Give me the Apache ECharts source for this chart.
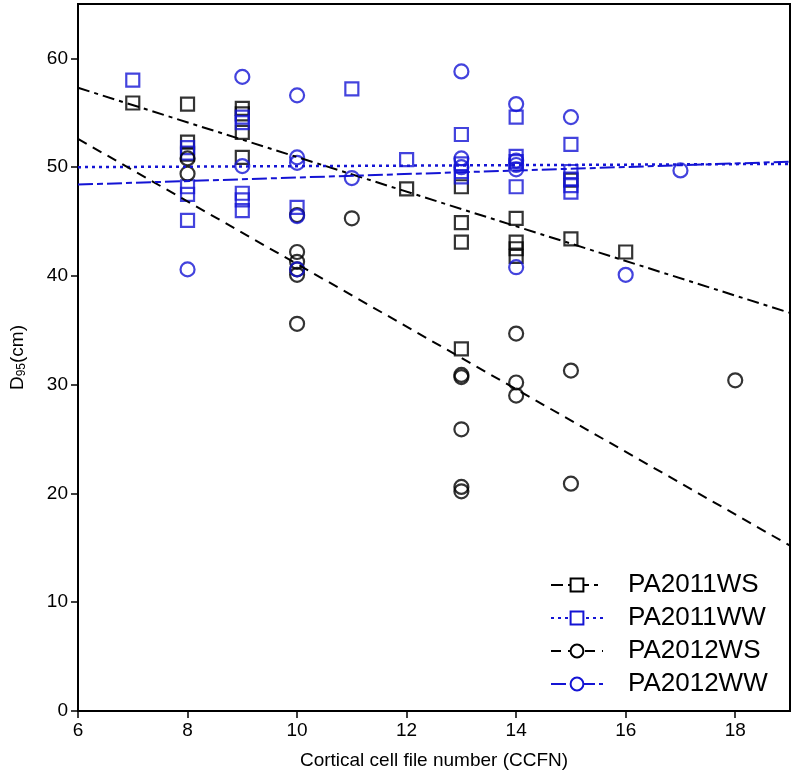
<!DOCTYPE html>
<html><head><meta charset="utf-8">
<script src="https://cdn.jsdelivr.net/npm/echarts@6/dist/echarts.min.js"></script>
<style>html,body{margin:0;padding:0;background:#fff}#c{width:793px;height:775px}</style>
</head><body><div id="c"></div>
<script>
// ---- data ----
const xTicks = [6, 8, 10, 12, 14, 16, 18];
const yTicks = [0, 10, 20, 30, 40, 50, 60];
const seriesNames = ['PA2011WS', 'PA2011WW', 'PA2012WS', 'PA2012WW'];

const pa2011wsX = [7, 8, 8, 8, 9, 9, 9, 9, 12, 13, 13, 13, 13, 14, 14, 14, 14, 15, 15, 16];
const pa2011wsY = [55.9, 55.8, 52.3, 51.2, 55.4, 54.9, 53.2, 50.9, 48.0, 48.2, 44.9, 43.1, 33.3, 45.3, 43.1, 42.5, 41.8, 48.8, 43.4, 42.2];

const pa2011wwX = [7, 8, 8, 8, 8, 8, 9, 9, 9, 9, 9, 10, 11, 12, 13, 13, 13, 13, 14, 14, 14, 14, 15, 15, 15, 15, 15];
const pa2011wwY = [58.0, 51.8, 51.3, 48.2, 47.5, 45.1, 54.6, 54.1, 47.6, 47.0, 46.0, 46.3, 57.2, 50.7, 53.0, 50.3, 49.6, 49.1, 54.6, 51.0, 50.5, 48.2, 52.1, 49.6, 48.9, 48.3, 47.7];

const pa2012wsX = [8, 8, 10, 10, 10, 10, 10, 10, 11, 13, 13, 13, 13, 13, 14, 14, 14, 15, 15, 18];
const pa2012wsY = [50.8, 49.4, 45.6, 42.2, 41.3, 40.6, 40.1, 35.6, 45.3, 30.9, 30.7, 25.9, 20.6, 20.2, 34.7, 30.2, 29.0, 31.3, 20.9, 30.4];

const pa2012wwX = [8, 9, 9, 10, 10, 10, 10, 10, 11, 13, 13, 13, 14, 14, 14, 14, 14, 15, 16, 17];
const pa2012wwY = [40.6, 58.3, 50.1, 56.6, 50.9, 50.4, 45.5, 40.6, 49.0, 58.8, 50.8, 50.0, 55.8, 50.6, 50.2, 49.8, 40.8, 54.6, 40.1, 49.7];

// regression lines: [x, y] at both ends of the x range
const fitPA2011WS = [[6, 57.3], [19, 36.6]];
const fitPA2011WW = [[6, 50.0], [19, 50.3]];
const fitPA2012WS = [[6, 52.6], [19, 15.2]];
const fitPA2012WW = [[6, 48.4], [19, 50.5]];

// ---- styles ----
const BLACK = '#000000';
const BLUE = '#1414d4';
const zip = (xs, ys) => xs.map((x, i) => [x, ys[i]]);

const groups = [
  { name: seriesNames[0], color: BLACK, symbol: 'rect', legendSymbol: 'emptyRect', dash: [12, 5, 4, 5], width: 2, pts: zip(pa2011wsX, pa2011wsY), fit: fitPA2011WS },
  { name: seriesNames[1], color: BLUE, symbol: 'rect', legendSymbol: 'emptyRect', dash: [3, 4], width: 2.5, pts: zip(pa2011wwX, pa2011wwY), fit: fitPA2011WW },
  { name: seriesNames[2], color: BLACK, symbol: 'circle', legendSymbol: 'emptyCircle', dash: [10, 7], width: 2, pts: zip(pa2012wsX, pa2012wsY), fit: fitPA2012WS },
  { name: seriesNames[3], color: BLUE, symbol: 'circle', legendSymbol: 'emptyCircle', dash: [15, 4, 6, 4], width: 2, pts: zip(pa2012wwX, pa2012wwY), fit: fitPA2012WW }
];

const series = [];
groups.forEach(g => {
  series.push({
    name: g.name, type: 'line', data: g.fit, symbol: g.legendSymbol, showSymbol: false,
    symbolSize: 12, silent: true, z: 3,
    itemStyle: { color: g.color },
    lineStyle: { color: g.color, width: g.width, type: g.dash },
    emphasis: { disabled: true }
  });
});
groups.forEach(g => {
  series.push({
    name: g.name, type: 'scatter', data: g.pts, symbol: g.symbol,
    symbolSize: g.symbol === 'rect' ? 13 : 14, z: 2,
    itemStyle: { color: 'rgba(0,0,0,0)', borderColor: g.color, borderWidth: 2.2 },
    emphasis: { disabled: true }
  });
});

const FONT = 'Liberation Sans';
const chart = echarts.init(document.getElementById('c'), null, { renderer: 'canvas' });
chart.setOption({
  animation: false,
  backgroundColor: '#fff',
  textStyle: { fontFamily: FONT },
  grid: { left: 70, right: 3, top: 4, bottom: 59, show: true, borderColor: '#000', borderWidth: 2, backgroundColor: 'transparent' },
  xAxis: {
    type: 'value', min: 6, max: 19, interval: 2,
    name: 'Cortical cell file number (CCFN)', nameLocation: 'middle', nameGap: 40,
    nameTextStyle: { fontSize: 19, color: '#000', fontFamily: FONT },
    axisLine: { show: true, lineStyle: { color: '#000', width: 2 } },
    axisTick: { show: true, inside: false, length: 7, customValues: xTicks, lineStyle: { color: '#000', width: 1.5 } },
    axisLabel: { fontSize: 19, color: '#000', margin: 10, fontFamily: FONT, customValues: xTicks },
    splitLine: { show: false }
  },
  yAxis: {
    type: 'value', min: 0, max: 65, interval: 10,
    name: '{a|D}{s|95}{a|(cm)}', nameLocation: 'middle', nameGap: 50, nameRotate: 90,
    nameTextStyle: { color: '#000', fontFamily: FONT,
      rich: { a: { fontSize: 19, color: '#000', fontFamily: FONT }, s: { fontSize: 12, color: '#000', padding: [9, 0, 0, 0], fontFamily: FONT } } },
    axisLine: { show: true, lineStyle: { color: '#000', width: 2 } },
    axisTick: { show: true, inside: false, length: 7, customValues: yTicks, lineStyle: { color: '#000', width: 1.5 } },
    axisLabel: { fontSize: 19, color: '#000', margin: 10, fontFamily: FONT, customValues: yTicks },
    splitLine: { show: false }
  },
  legend: {
    data: seriesNames, orient: 'vertical', left: 545, top: 548,
    padding: [24, 20, 12, 5], itemGap: 7, itemWidth: 52, itemHeight: 16,
    backgroundColor: '#fff', borderWidth: 0,
    textStyle: { fontSize: 26, color: '#000', lineHeight: 26, padding: [0, 0, 0, 20], fontFamily: FONT },
    selectedMode: false
  },
  series: series
});
</script>
</body></html>
